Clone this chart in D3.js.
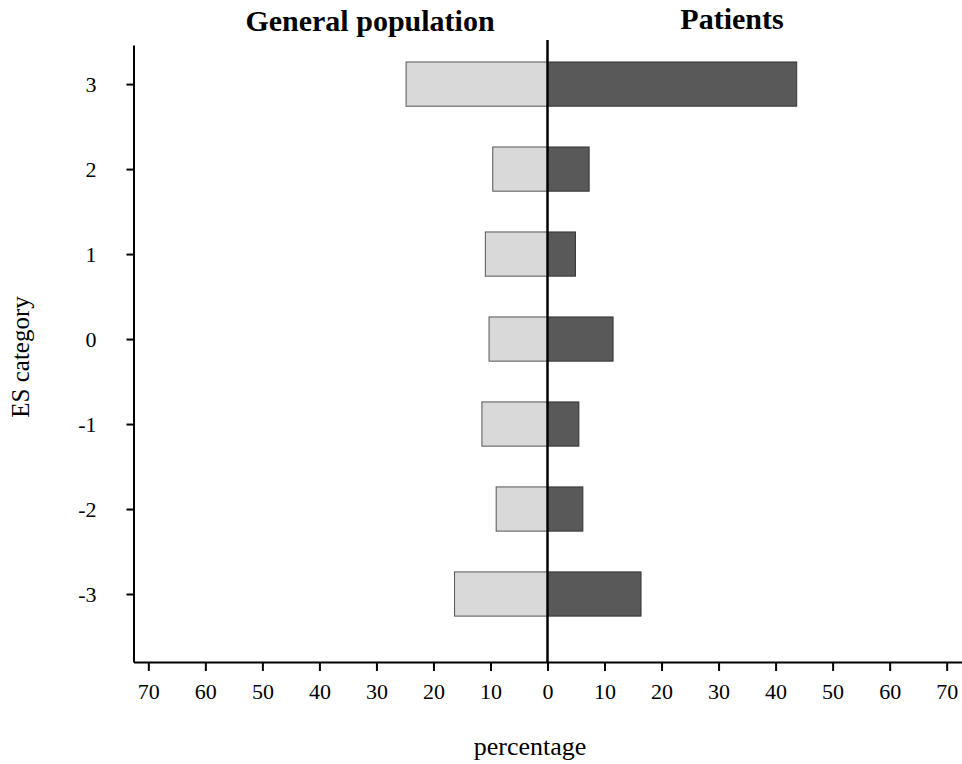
<!DOCTYPE html>
<html>
<head>
<meta charset="utf-8">
<script src="https://cdn.jsdelivr.net/npm/d3@7"></script>
<style>
  body { margin: 0; background: #fff; }
  svg { display: block; font-family: "Liberation Serif", "Times New Roman", serif; }
  .axis path, .axis line { stroke: #000; stroke-width: 2; }
  .axis text { font-family: "Liberation Serif", serif; font-size: 22px; fill: #000; }
</style>
</head>
<body>
<div id="chart"></div>
<script>
// ES categories, top to bottom
var categories = [3, 2, 1, 0, -1, -2, -3];
// percentage per category
var generalPop = [24.8, 9.6, 10.9, 10.25, 11.5, 9.0, 16.3];
var patients = [43.7, 7.3, 4.9, 11.5, 5.5, 6.2, 16.4];
// tick values on the percentage axis
var xTicks = [-70, -60, -50, -40, -30, -20, -10, 0, 10, 20, 30, 40, 50, 60, 70];

var width = 962, height = 764;

var svg = d3.select("#chart").append("svg")
  .attr("width", width)
  .attr("height", height);

var x = d3.scaleLinear().domain([-72.6, 72.6]).range([133.5, 961.5]);
var y = d3.scaleLinear().domain([-3.8, 3.46]).range([662, 45]);
var barHalf = 0.26;

// general population bars (left side)
svg.append("g").selectAll("rect")
  .data(categories)
  .enter()
  .append("rect")
    .attr("x", function (d, i) { return x(-generalPop[i]); })
    .attr("y", function (d) { return y(d + barHalf); })
    .attr("width", function (d, i) { return x(0) - x(-generalPop[i]); })
    .attr("height", function (d) { return y(d - barHalf) - y(d + barHalf); })
    .attr("fill", "#d9d9d9")
    .attr("stroke", "#555")
    .attr("stroke-width", 1);

// patient bars (right side)
svg.append("g").selectAll("rect")
  .data(categories)
  .enter()
  .append("rect")
    .attr("x", x(0))
    .attr("y", function (d) { return y(d + barHalf); })
    .attr("width", function (d, i) { return x(patients[i]) - x(0); })
    .attr("height", function (d) { return y(d - barHalf) - y(d + barHalf); })
    .attr("fill", "#595959")
    .attr("stroke", "#333")
    .attr("stroke-width", 1);

// bottom axis
svg.append("g")
  .attr("class", "axis")
  .attr("transform", "translate(0," + y(-3.8) + ")")
  .call(d3.axisBottom(x)
    .tickValues(xTicks)
    .tickFormat(function (d) { return String(Math.abs(d)); })
    .tickSize(9)
    .tickSizeOuter(0)
    .tickPadding(12));

// left axis
svg.append("g")
  .attr("class", "axis")
  .attr("transform", "translate(" + x(-72.6) + ",0)")
  .call(d3.axisLeft(y)
    .tickValues(categories)
    .tickFormat(function (d) { return String(d); })
    .tickSize(7)
    .tickSizeOuter(0)
    .tickPadding(30));

// centre line at zero
svg.append("line")
  .attr("x1", x(0)).attr("x2", x(0))
  .attr("y1", y(3.52)).attr("y2", y(-3.8))
  .attr("stroke", "#000")
  .attr("stroke-width", 2.5);

// headings
svg.append("text")
  .attr("x", 370).attr("y", 31)
  .attr("text-anchor", "middle")
  .attr("font-size", "30px")
  .attr("font-weight", "bold")
  .text("General population");

svg.append("text")
  .attr("x", 732).attr("y", 29)
  .attr("text-anchor", "middle")
  .attr("font-size", "30px")
  .attr("font-weight", "bold")
  .text("Patients");

// axis titles
svg.append("text")
  .attr("x", 530).attr("y", 755)
  .attr("text-anchor", "middle")
  .attr("font-size", "26px")
  .text("percentage");

svg.append("text")
  .attr("transform", "translate(29,357) rotate(-90)")
  .attr("text-anchor", "middle")
  .attr("font-size", "25px")
  .text("ES category");
</script>
</body>
</html>
